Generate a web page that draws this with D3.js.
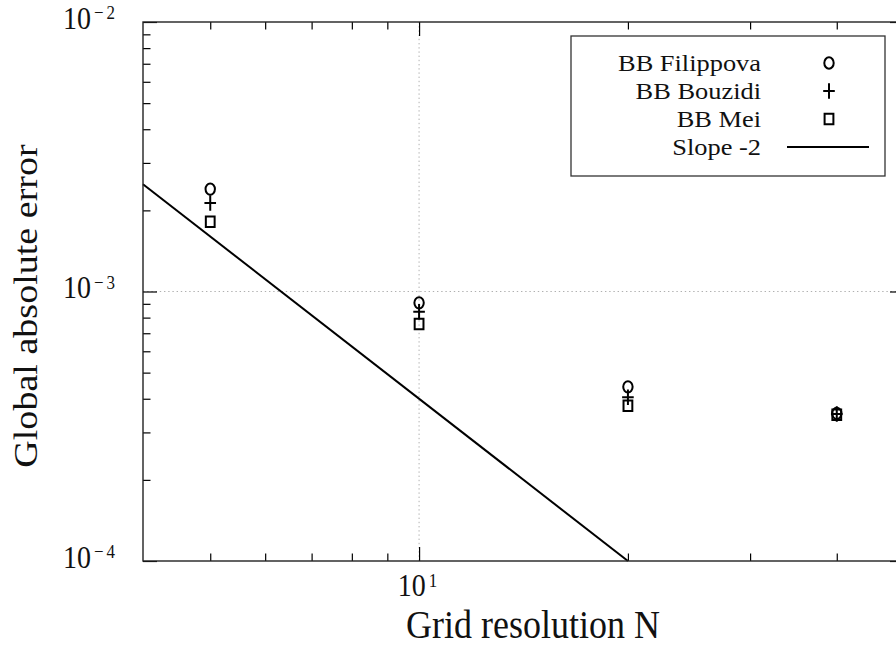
<!DOCTYPE html>
<html>
<head>
<meta charset="utf-8">
<script src="https://cdn.jsdelivr.net/npm/d3@7"></script>
<style>
  html, body { margin: 0; padding: 0; background: #fff; }
  text { font-family: "Liberation Serif", "DejaVu Serif", serif; }
</style>
</head>
<body>
<svg id="chart" width="896" height="648"></svg>
<script>
// Grid convergence data (log-log)
const resolutions = [5, 10, 20, 40];
const errFilippova = [2.40e-3, 9.08e-4, 4.43e-4, 3.53e-4];
const errBouzidi   = [2.13e-3, 8.41e-4, 4.05e-4, 3.51e-4];
const errMei       = [1.815e-3, 7.57e-4, 3.77e-4, 3.49e-4];

// Reference slope -2 line
const slopeN   = [4, 20];
const slopeErr = [2.5e-3, 1e-4];

// Axis ticks
const xMajorTicks = [10];
const xMinorTicks = [5, 6, 7, 8, 9, 20, 30, 40];
const yMajorTicks = [1e-4, 1e-3, 1e-2];
const yMinorTicks = [2e-4, 3e-4, 4e-4, 5e-4, 6e-4, 7e-4, 8e-4, 9e-4,
                     2e-3, 3e-3, 4e-3, 5e-3, 6e-3, 7e-3, 8e-3, 9e-3];
const xTickLabels = [{ v: 10, base: "10", exp: "1" }];
const yTickLabels = [
  { v: 1e-2, base: "10", exp: "\u22122" },
  { v: 1e-3, base: "10", exp: "\u22123" },
  { v: 1e-4, base: "10", exp: "\u22124" }
];

const legendItems = [
  { label: "BB Filippova", kind: "circle" },
  { label: "BB Bouzidi",   kind: "plus" },
  { label: "BB Mei",       kind: "square" },
  { label: "Slope -2",     kind: "line" }
];

const FONT = "Liberation Serif, DejaVu Serif, serif";
const svg = d3.select("#chart");
const L = 143, R = 904, T = 22, B = 561;
const x = d3.scaleLog().domain([4, 50]).range([L, R]);
const y = d3.scaleLog().domain([1e-4, 1e-2]).range([B, T]);

const STRETCH = 1.2;   // markers are drawn slightly taller than wide
const TEXT_STRETCH = 1.12;
const gridColor = "#b0b0b0";

// dotted grid at the major decades
svg.append("g").selectAll("line").data(xMajorTicks).join("line")
  .attr("x1", d => x(d)).attr("x2", d => x(d)).attr("y1", T).attr("y2", B)
  .attr("stroke", gridColor).attr("stroke-width", 1).attr("stroke-dasharray", "1.4,2.8");
svg.append("g").selectAll("line").data([1e-3]).join("line")
  .attr("x1", L).attr("x2", R).attr("y1", d => y(d)).attr("y2", d => y(d))
  .attr("stroke", gridColor).attr("stroke-width", 1).attr("stroke-dasharray", "1.4,2.8");

// inward tick marks on all four sides
function ticks(axisFn, scale, values, size, transform) {
  const g = svg.append("g").attr("transform", transform)
    .call(axisFn(scale).tickValues(values).tickSize(-size).tickFormat(""));
  g.select(".domain").remove();
  g.selectAll(".tick line").attr("stroke", "#000").attr("stroke-width", 1.2);
}
const MAJ = 14, MIN = 7.5;
ticks(d3.axisBottom, x, xMajorTicks, MAJ, `translate(0,${B})`);
ticks(d3.axisBottom, x, xMinorTicks, MIN, `translate(0,${B})`);
ticks(d3.axisTop, x, xMajorTicks, MAJ, `translate(0,${T})`);
ticks(d3.axisTop, x, xMinorTicks, MIN, `translate(0,${T})`);
ticks(d3.axisLeft, y, yMajorTicks, MAJ, `translate(${L},0)`);
ticks(d3.axisLeft, y, yMinorTicks, MIN, `translate(${L},0)`);
ticks(d3.axisRight, y, yMajorTicks, MAJ, `translate(${R},0)`);
ticks(d3.axisRight, y, yMinorTicks, MIN, `translate(${R},0)`);

// slope -2 reference line
const line = d3.line().x((d, i) => x(slopeN[i])).y(d => y(d));
svg.append("path").datum(slopeErr).attr("d", line)
  .attr("fill", "none").attr("stroke", "#000").attr("stroke-width", 2);

// frame
svg.append("rect").attr("x", L).attr("y", T).attr("width", R - L).attr("height", B - T)
  .attr("fill", "none").attr("stroke", "#222").attr("stroke-width", 1.4);

// markers
const circlePath = d3.symbol().type(d3.symbolCircle).size(Math.PI * 4.7 * 4.7)();
const squarePath = d3.symbol().type(d3.symbolSquare).size(8.8 * 8.8)();
const plusPath = "M-5.8,0H5.8M0,-6.4V6.4";
const markerPath = { circle: circlePath, square: squarePath, plus: plusPath };

function drawSeries(values, kind) {
  svg.append("g").selectAll("path").data(values).join("path")
    .attr("transform", (d, i) => `translate(${x(resolutions[i])},${y(d)}) scale(1,${STRETCH})`)
    .attr("d", markerPath[kind])
    .attr("fill", "none").attr("stroke", "#000").attr("stroke-width", 2)
    .attr("vector-effect", "non-scaling-stroke");
}
drawSeries(errFilippova, "circle");
drawSeries(errBouzidi, "plus");
drawSeries(errMei, "square");

// text helper: places a label with an optional horizontal / vertical scale
function label(px, py, anchor, size, opts = {}) {
  const sx = opts.sx ?? 1, sy = opts.sy ?? TEXT_STRETCH;
  const tf = opts.rotate
    ? `translate(${px},${py}) rotate(-90) scale(${sy},${sx})`
    : `translate(${px},${py}) scale(${sx},${sy})`;
  return svg.append("g").attr("transform", tf)
    .append("text").attr("text-anchor", anchor).attr("font-size", size)
    .attr("font-family", FONT).attr("fill", "#111");
}

// tick labels with superscript exponents
const TICK_FS = 28, SUP_FS = 17;
function powerLabel(sel, base, exp) {
  sel.append("tspan").text(base);
  sel.append("tspan").attr("font-size", SUP_FS).attr("dx", 3).attr("dy", -8.3)
    .attr("letter-spacing", exp.length > 1 ? 3 : 0).text(exp);
}
yTickLabels.forEach(t => powerLabel(label(118, y(t.v) + 6.5, "end", TICK_FS), t.base, t.exp));
xTickLabels.forEach(t => powerLabel(label(x(t.v) - 1.5, 596, "middle", TICK_FS), t.base, t.exp));

// axis titles
label(533, 638, "middle", 36).text("Grid resolution N");
label(36.5, 306, "middle", 34, { rotate: true }).text("Global absolute error");

// legend
const lg = svg.append("g");
lg.append("rect").attr("x", 571).attr("y", 36).attr("width", 314).attr("height", 140)
  .attr("fill", "#fff").attr("stroke", "#333").attr("stroke-width", 1.3);
legendItems.forEach((it, i) => {
  const base = 71 + i * 28;
  label(761, base, "end", 24, { sx: 1.1, sy: 1 }).text(it.label);
  const cy = base - 8;
  if (it.kind === "line") {
    lg.append("line").attr("x1", 787).attr("x2", 869).attr("y1", cy).attr("y2", cy)
      .attr("stroke", "#000").attr("stroke-width", 2);
  } else {
    lg.append("path").attr("transform", `translate(829,${cy}) scale(1,${STRETCH})`)
      .attr("d", markerPath[it.kind]).attr("fill", "none").attr("stroke", "#000")
      .attr("stroke-width", 2).attr("vector-effect", "non-scaling-stroke");
  }
});
</script>
</body>
</html>
